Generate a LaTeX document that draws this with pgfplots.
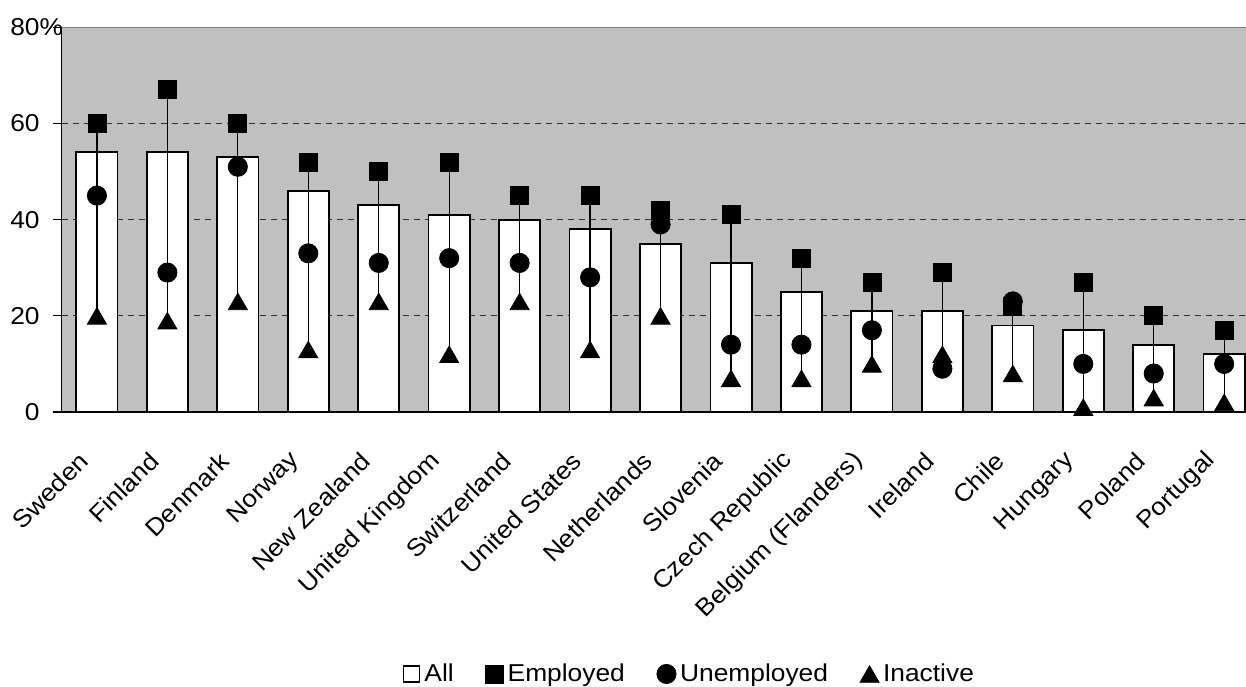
\documentclass[border=0pt]{standalone}
\usepackage{fontspec}
\setmainfont{Liberation Sans}[FakeStretch=1.08]
\usepackage{pgfplots}
\usepackage{pgfplotstable}
\pgfplotsset{compat=1.18}
\definecolor{plotbg}{HTML}{C0C0C0}
\definecolor{gridc}{HTML}{333333}
\newcommand{\lblfont}{\fontsize{12.2}{14}\selectfont}
\pgfplotsset{
  markleg/.style={legend image code/.code={\draw[##1] plot coordinates {(5pt,0pt)};}},
  barleg/.style={legend image code/.code={\draw[black, fill=white, line width=0.6pt] (1pt,-4pt) rectangle (9pt,4pt);}},
}

% all = bar, emp/unemp/inact = markers, lo/hi = ends of the high-low line
\pgfplotstableread{
idx all emp unemp inact lo hi
0  54 60 45 20 20 60
1  54 67 29 19 19 67
2  53 60 51 23 23 60
3  46 52 33 13 13 52
4  43 50 31 23 23 50
5  41 52 32 12 12 52
6  40 45 31 23 23 45
7  38 45 28 13 13 45
8  35 42 39 20 20 42
9  31 41 14  7  7 41
10 25 32 14  7  7 32
11 21 27 17 10 10 27
12 21 29  9 12  9 29
13 18 22 23  8  8 23
14 17 27 10  1  1 27
15 14 20  8  3  3 20
16 12 17 10  2  2 17
}\data

\begin{document}
\begin{tikzpicture}
\useasboundingbox (0,0) rectangle (623pt,343pt);
\begin{axis}[
  at={(30.85pt,137pt)}, anchor=south west,
  scale only axis, width=592.15pt, height=192.35pt,
  xmin=-0.5, xmax=16.31, ymin=0, ymax=80,
  clip=false,
  axis x line*=bottom, axis y line*=left,
  axis line style={black, line width=0.7pt, -},
  axis background/.style={fill=plotbg},
  tick align=outside, major tick length=4.5pt,
  ytick={0,20,40,60}, yticklabels={0,20,40,60},
  extra y ticks={80}, extra y tick labels={80\rlap{\%}},
  extra y tick style={grid style={solid, gray, line width=0.5pt}},
  ymajorgrids,
  grid style={gridc, dash pattern=on 3.3pt off 2.2pt, line width=0.5pt},
  ytick style={black, line width=0.6pt},
  yticklabel style={font=\lblfont, anchor=east, xshift=-3pt},
  xtick={0,...,16},
  xtick style={draw=none},
  xticklabels={Sweden, Finland, Denmark, Norway, New Zealand, United Kingdom,
    Switzerland, United States, Netherlands, Slovenia, Czech Republic,
    Belgium (Flanders), Ireland, Chile, Hungary, Poland, Portugal},
  xticklabel style={font=\lblfont, xshift=-4pt, yshift=-15.5pt,
    rotate=45, anchor=east},
  legend columns=4,
  legend style={at={(0.531,-0.681)}, anchor=center, draw=none, fill=none,
    font=\lblfont,
    /tikz/every even column/.append style={column sep=14pt}},
]
\addplot[ybar, bar width=20.6pt, fill=white, draw=black, line width=0.9pt, barleg]
  table[x=idx, y=all] {\data};
\addlegendentry{All}

\addplot[forget plot, draw=none, mark=none,
  error bars/.cd, y dir=plus, y explicit, error mark=none,
  error bar style={black, line width=0.6pt}]
  table[x=idx, y=lo, y error plus expr=\thisrow{hi}-\thisrow{lo}] {\data};

\addplot[only marks, mark=square*, mark size=4.5pt, black, markleg]
  table[x=idx, y=emp] {\data};
\addlegendentry{Employed}

\addplot[only marks, mark=*, mark size=4.8pt, black, markleg]
  table[x=idx, y=unemp] {\data};
\addlegendentry{Unemployed}

\addplot[only marks, mark=triangle*, mark size=5.5pt, black,
  mark options={yshift=-1.4pt}, markleg]
  table[x=idx, y=inact] {\data};
\addlegendentry{Inactive}
\end{axis}
\end{tikzpicture}
\end{document}
